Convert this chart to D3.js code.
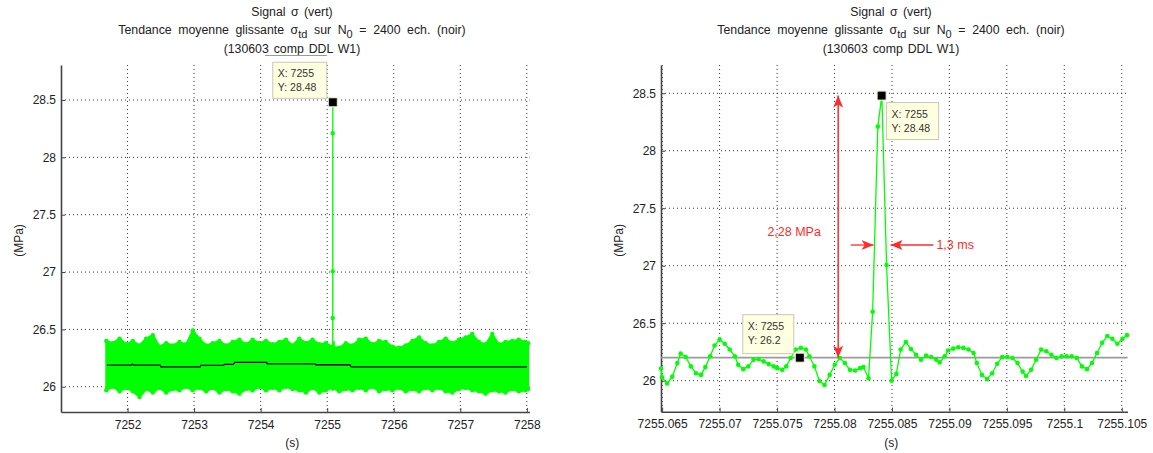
<!DOCTYPE html>
<html><head><meta charset="utf-8">
<script src="https://cdn.jsdelivr.net/npm/d3@7"></script>
<style>
body{margin:0;background:#fff}
svg{display:block;font-family:"Liberation Sans",Arial,sans-serif}
</style>
</head><body>
<svg id="c" width="1153" height="453"></svg>
<script>
// ---------------- DATA ----------------
const leftXTicks = [7252, 7253, 7254, 7255, 7256, 7257, 7258];
const leftXTickLabels = ["7252", "7253", "7254", "7255", "7256", "7257", "7258"];
const yTicks = [26, 26.5, 27, 27.5, 28, 28.5];
const yTickLabels = ["26", "26.5", "27", "27.5", "28", "28.5"];
const rightXTicks = [7255.065, 7255.07, 7255.075, 7255.08, 7255.085, 7255.09, 7255.095, 7255.1, 7255.105];
const rightXTickLabels = ["7255.065", "7255.07", "7255.075", "7255.08", "7255.085", "7255.09", "7255.095", "7255.1", "7255.105"];

// left panel: envelope of the dense green signal band
const bandT = [7251.68, 7251.78, 7251.88, 7251.98, 7252.08, 7252.18, 7252.28, 7252.38, 7252.48, 7252.58, 7252.68, 7252.78, 7252.88, 7252.98, 7253.08, 7253.18, 7253.28, 7253.38, 7253.48, 7253.58, 7253.68, 7253.78, 7253.88, 7253.98, 7254.08, 7254.18, 7254.28, 7254.38, 7254.48, 7254.58, 7254.68, 7254.78, 7254.88, 7254.98, 7255.08, 7255.18, 7255.28, 7255.38, 7255.48, 7255.58, 7255.68, 7255.78, 7255.88, 7255.98, 7256.08, 7256.18, 7256.28, 7256.38, 7256.48, 7256.58, 7256.68, 7256.78, 7256.88, 7256.98, 7257.08, 7257.18, 7257.28, 7257.38, 7257.48, 7257.58, 7257.68, 7257.78, 7257.88, 7257.98, 7258.02];
const bandHi = [26.40, 26.38, 26.42, 26.37, 26.40, 26.36, 26.42, 26.45, 26.35, 26.38, 26.36, 26.39, 26.37, 26.49, 26.42, 26.36, 26.38, 26.40, 26.36, 26.39, 26.41, 26.37, 26.41, 26.38, 26.40, 26.37, 26.39, 26.41, 26.36, 26.42, 26.38, 26.41, 26.37, 26.38, 26.35, 26.34, 26.38, 26.36, 26.41, 26.42, 26.37, 26.40, 26.39, 26.35, 26.34, 26.36, 26.40, 26.43, 26.38, 26.36, 26.39, 26.42, 26.38, 26.41, 26.43, 26.46, 26.39, 26.37, 26.46, 26.37, 26.39, 26.40, 26.41, 26.39, 26.38];
const bandLo = [25.97, 26.00, 25.96, 25.99, 25.96, 25.91, 25.98, 25.95, 25.99, 25.95, 25.98, 25.97, 26.00, 25.97, 25.99, 25.96, 25.99, 25.95, 25.98, 25.96, 25.94, 25.98, 25.97, 26.00, 25.97, 25.99, 25.97, 26.00, 25.98, 25.97, 25.95, 25.99, 25.95, 25.97, 25.99, 25.96, 25.98, 25.97, 25.99, 25.97, 26.00, 25.96, 25.98, 25.97, 25.99, 25.96, 25.98, 25.96, 25.99, 25.97, 25.99, 25.96, 25.95, 25.98, 25.99, 25.97, 25.96, 25.94, 25.97, 25.96, 25.95, 25.98, 25.96, 25.97, 25.98];

// left panel: moving average (black)
const maT = [7251.69, 7252.05, 7252.07, 7252.10, 7252.49, 7252.50, 7253.09, 7253.10, 7253.44, 7253.46, 7253.59, 7253.61, 7254.09, 7254.10, 7254.82, 7254.83, 7255.34, 7255.36, 7258.0];
const maV = [26.189, 26.189, 26.196, 26.189, 26.189, 26.174, 26.174, 26.186, 26.186, 26.196, 26.196, 26.213, 26.213, 26.2, 26.2, 26.192, 26.192, 26.174, 26.174];

// right panel: signal samples around the peak
const sigT = [7255.0649, 7255.06499, 7255.06543, 7255.06588, 7255.06632, 7255.06661, 7255.06705, 7255.06750, 7255.06794, 7255.06838, 7255.06876, 7255.06918, 7255.06956, 7255.07000, 7255.07044, 7255.07088, 7255.07133, 7255.07162, 7255.07206, 7255.07250, 7255.07295, 7255.07339, 7255.07383, 7255.07427, 7255.07471, 7255.07501, 7255.07545, 7255.07580, 7255.07619, 7255.07663, 7255.07707, 7255.07751, 7255.07781, 7255.07825, 7255.07869, 7255.07913, 7255.07958, 7255.08002, 7255.08046, 7255.08090, 7255.08134, 7255.08179, 7255.08223, 7255.08252, 7255.08296, 7255.08332, 7255.08377, 7255.08412, 7255.08453, 7255.08497, 7255.08538, 7255.08576, 7255.08621, 7255.08665, 7255.08709, 7255.08753, 7255.08797, 7255.08842, 7255.08886, 7255.08915, 7255.08959, 7255.08989, 7255.09033, 7255.09077, 7255.09121, 7255.09166, 7255.09210, 7255.09239, 7255.09283, 7255.09328, 7255.09372, 7255.09416, 7255.09460, 7255.09504, 7255.09549, 7255.09593, 7255.09637, 7255.09667, 7255.09711, 7255.09755, 7255.09799, 7255.09843, 7255.09888, 7255.09932, 7255.09976, 7255.10020, 7255.10064, 7255.10109, 7255.10153, 7255.10197, 7255.10241, 7255.10285, 7255.10329, 7255.10374, 7255.10418, 7255.10462, 7255.10506, 7255.10545];
const sigV = [26.106, 26.029, 25.976, 26.035, 26.153, 26.235, 26.206, 26.124, 26.065, 26.050, 26.118, 26.212, 26.306, 26.359, 26.321, 26.271, 26.212, 26.138, 26.100, 26.124, 26.182, 26.188, 26.168, 26.144, 26.124, 26.109, 26.094, 26.124, 26.197, 26.271, 26.285, 26.271, 26.212, 26.124, 25.997, 25.962, 26.050, 26.138, 26.197, 26.153, 26.094, 26.088, 26.109, 26.118, 26.021, 26.600, 28.210, 28.480, 27.006, 26.000, 26.059, 26.271, 26.335, 26.276, 26.226, 26.182, 26.218, 26.206, 26.182, 26.159, 26.212, 26.262, 26.279, 26.291, 26.285, 26.271, 26.241, 26.153, 26.050, 26.015, 26.065, 26.147, 26.206, 26.206, 26.197, 26.153, 26.079, 26.041, 26.094, 26.182, 26.271, 26.256, 26.226, 26.197, 26.212, 26.212, 26.212, 26.197, 26.124, 26.100, 26.153, 26.241, 26.329, 26.388, 26.365, 26.321, 26.365, 26.396];

// right panel: moving average level
const rightMaLevel = 26.2;

// data tips
const leftTipX = [7255.0841], leftTipY = [28.48], leftTipText = [["X: 7255", "Y: 28.48"]];
const rightTipX = [7255.0841, 7255.07698], rightTipY = [28.48, 26.2], rightTipText = [["X: 7255", "Y: 28.48"], ["X: 7255", "Y: 26.2"]];

// annotations (right panel)
const ampArrowT = 7255.08032, ampArrowFrom = 26.2, ampArrowTo = 28.48, ampLabel = "2,28 MPa";
const widthArrowLevel = 27.18;
const widthArrowLeftFrom = 7255.08141, widthArrowLeftTo = 7255.08340;
const widthArrowRightFrom = 7255.08861, widthArrowRightTo = 7255.08488;
const widthLabel = "1,3 ms";

// ---------------- DRAW ----------------
const svg = d3.select("#c");
const GREEN = "#00ff00", RED = "#ff2b2b";
const FS = 12;

const lx = d3.scaleLinear().domain([7251, 7258.04]).range([61, 529.5]);
const ly = d3.scaleLinear().domain([25.78, 28.805]).range([412, 65]);
const rx = d3.scaleLinear().domain([7255.0649, 7255.1055]).range([661, 1127.5]);
const ry = d3.scaleLinear().domain([25.73, 28.746]).range([411.7, 65]);

function frame(xS, yS, xT, xTL, cx, underline) {
  const g = svg.append("g");
  const [x0, x1] = xS.range(), [y0, y1] = yS.range();
  // grid
  g.selectAll(".gv").data(xT).enter().append("line")
    .attr("x1", d => xS(d)).attr("x2", d => xS(d)).attr("y1", y1).attr("y2", y0)
    .attr("stroke", "#222").attr("stroke-width", 1).attr("stroke-dasharray", "1,3").attr("opacity", 0.9);
  g.selectAll(".gh").data(yTicks).enter().append("line")
    .attr("x1", x0).attr("x2", x1).attr("y1", d => yS(d)).attr("y2", d => yS(d))
    .attr("stroke", "#222").attr("stroke-width", 1).attr("stroke-dasharray", "1,3").attr("opacity", 0.9);
  // axes
  const ax = d3.axisBottom(xS).tickValues(xT).tickFormat((d, i) => xTL[i]).tickSizeInner(-4).tickSizeOuter(0).tickPadding(8);
  const gx = g.append("g").attr("transform", `translate(0,${y0})`).call(ax);
  const ay = d3.axisLeft(yS).tickValues(yTicks).tickFormat((d, i) => yTickLabels[i]).tickSizeInner(-4).tickSizeOuter(0).tickPadding(5);
  const gy = g.append("g").attr("transform", `translate(${x0},0)`).call(ay);
  [gx, gy].forEach(a => {
    a.select(".domain").attr("stroke", "#444").attr("stroke-width", 1.6);
    a.selectAll(".tick line").attr("stroke", "#444");
    a.selectAll("text").attr("font-size", FS).attr("fill", "#222").attr("font-family", '"Liberation Sans",Arial,sans-serif');
  });
  // labels
  g.append("text").attr("x", (x0 + x1) / 2 - 3).attr("y", 447).attr("text-anchor", "middle")
    .attr("font-size", FS).attr("fill", "#222").text("(s)");
  g.append("text").attr("transform", `translate(${x0 - 38},${(y0 + y1) / 2 + 2}) rotate(-90)`).attr("text-anchor", "middle")
    .attr("font-size", FS).attr("fill", "#222").text("(MPa)");
  // title
  const t = g.append("g").attr("font-size", 12.3).attr("fill", "#222").attr("text-anchor", "middle");
  t.append("text").attr("x", cx).attr("y", 16).attr("word-spacing", 2).text("Signal  σ (vert)");
  const l2 = t.append("text").attr("x", cx).attr("y", 34).attr("word-spacing", 3.2);
  l2.append("tspan").text("Tendance moyenne glissante σ");
  l2.append("tspan").attr("dy", 4).attr("font-size", 11).text("td");
  l2.append("tspan").attr("dy", -4).text(" sur N");
  l2.append("tspan").attr("dy", 4).attr("font-size", 11).text("0");
  l2.append("tspan").attr("dy", -4).text(" = 2400 ech. (noir)");
  t.append("text").attr("x", cx).attr("y", 53).attr("word-spacing", 1.5).text("(130603 comp DDL W1)");
  if (underline) g.append("line").attr("x1", cx - 27).attr("x2", cx + 35).attr("y1", 55.5).attr("y2", 55.5)
    .attr("stroke", "#9a9a9a").attr("stroke-width", 1);
  return g;
}

function tip(g, px, py, lines, bx, by, w, h) {
  g.append("rect").attr("x", bx).attr("y", by).attr("width", w).attr("height", h)
    .attr("fill", "#ffffe1").attr("stroke", "#c8c8b4").attr("stroke-width", 1);
  lines.forEach((s, i) => g.append("text").attr("x", bx + 5).attr("y", by + 15 + i * 14)
    .attr("font-size", 10.5).attr("fill", "#333").text(s));
  g.append("rect").attr("x", px - 4.5).attr("y", py - 4.5).attr("width", 9).attr("height", 9)
    .attr("fill", "#000").attr("stroke", "#f4f4d0").attr("stroke-width", 1);
}

// ---- LEFT PANEL ----
const gl = frame(lx, ly, leftXTicks, leftXTickLabels, 292, true);
const band = bandT.map((t, i) => [lx(t), ly(bandHi[i])]).concat(bandT.map((t, i) => [lx(t), ly(bandLo[i])]).reverse());
gl.append("path").attr("d", d3.line()(band) + "Z").attr("fill", GREEN).attr("stroke", GREEN).attr("stroke-width", 2);
gl.selectAll(".bh").data(bandT).enter().append("circle").attr("cx", d => lx(d)).attr("cy", (d, i) => ly(bandHi[i])).attr("r", 2.2).attr("fill", GREEN);
gl.selectAll(".bl").data(bandT).enter().append("circle").attr("cx", d => lx(d)).attr("cy", (d, i) => ly(bandLo[i])).attr("r", 2.2).attr("fill", GREEN);
gl.append("path").datum(sigT.map((t, i) => [t, sigV[i]]))
  .attr("d", d3.line().x(d => lx(d[0])).y(d => ly(d[1]))).attr("fill", "none").attr("stroke", GREEN).attr("stroke-width", 1.3);
gl.selectAll(".sp").data(sigT.filter((t, i) => sigV[i] > 26.45)).enter().append("circle")
  .attr("cx", d => lx(d)).attr("cy", d => ly(sigV[sigT.indexOf(d)])).attr("r", 2.2).attr("fill", GREEN);
gl.append("path").datum(maT.map((t, i) => [t, maV[i]]))
  .attr("d", d3.line().x(d => lx(d[0])).y(d => ly(d[1]))).attr("fill", "none").attr("stroke", "#000").attr("stroke-width", 1.3);
leftTipX.forEach((t, i) => {
  const px = lx(t), py = ly(leftTipY[i]);
  tip(gl, px, py, leftTipText[i], px - 60, py - 40, 54, 36);
});

// ---- RIGHT PANEL ----
const gr = frame(rx, ry, rightXTicks, rightXTickLabels, 891, false);
gr.append("line").attr("x1", rx.range()[0]).attr("x2", rx.range()[1]).attr("y1", ry(rightMaLevel)).attr("y2", ry(rightMaLevel))
  .attr("stroke", "#9a9a9a").attr("stroke-width", 1.6);
gr.append("path").datum(sigT.map((t, i) => [t, sigV[i]]))
  .attr("d", d3.line().x(d => rx(d[0])).y(d => ry(d[1]))).attr("fill", "none").attr("stroke", GREEN).attr("stroke-width", 1.3);
gr.selectAll(".m").data(sigT).enter().append("circle").attr("cx", d => rx(d)).attr("cy", (d, i) => ry(sigV[i])).attr("r", 2.3).attr("fill", GREEN);

// annotations
const defs = svg.append("defs");
defs.append("marker").attr("id", "ah").attr("viewBox", "0 0 12 10").attr("refX", 12).attr("refY", 5)
  .attr("markerWidth", 12).attr("markerHeight", 10).attr("markerUnits", "userSpaceOnUse").attr("orient", "auto-start-reverse")
  .append("path").attr("d", "M0,0 L12,5 L0,10 L3,5 Z").attr("fill", RED);
gr.append("line").attr("x1", rx(ampArrowT)).attr("x2", rx(ampArrowT)).attr("y1", ry(ampArrowFrom)).attr("y2", ry(ampArrowTo))
  .attr("stroke", RED).attr("stroke-width", 1.5).attr("marker-start", "url(#ah)").attr("marker-end", "url(#ah)");
gr.append("text").attr("x", rx(ampArrowT) - 44).attr("y", 236).attr("text-anchor", "middle").attr("font-size", 12.5).attr("fill", RED).text(ampLabel);
gr.append("line").attr("x1", rx(widthArrowLeftFrom)).attr("x2", rx(widthArrowLeftTo)).attr("y1", ry(widthArrowLevel)).attr("y2", ry(widthArrowLevel))
  .attr("stroke", RED).attr("stroke-width", 1.3).attr("marker-end", "url(#ah)");
gr.append("line").attr("x1", rx(widthArrowRightFrom)).attr("x2", rx(widthArrowRightTo)).attr("y1", ry(widthArrowLevel)).attr("y2", ry(widthArrowLevel))
  .attr("stroke", RED).attr("stroke-width", 1.3).attr("marker-end", "url(#ah)");
gr.append("text").attr("x", rx(widthArrowRightFrom) + 3).attr("y", ry(widthArrowLevel) + 4).attr("font-size", 12.5).attr("fill", RED).text(widthLabel);

rightTipX.forEach((t, i) => {
  const px = rx(t), py = ry(rightTipY[i]);
  if (i === 0) tip(gr, px, py, rightTipText[i], px + 5, py + 7, 52, 37);
  else tip(gr, px, py, rightTipText[i], px - 57, py - 43, 51, 39);
});
</script>
</body></html>
